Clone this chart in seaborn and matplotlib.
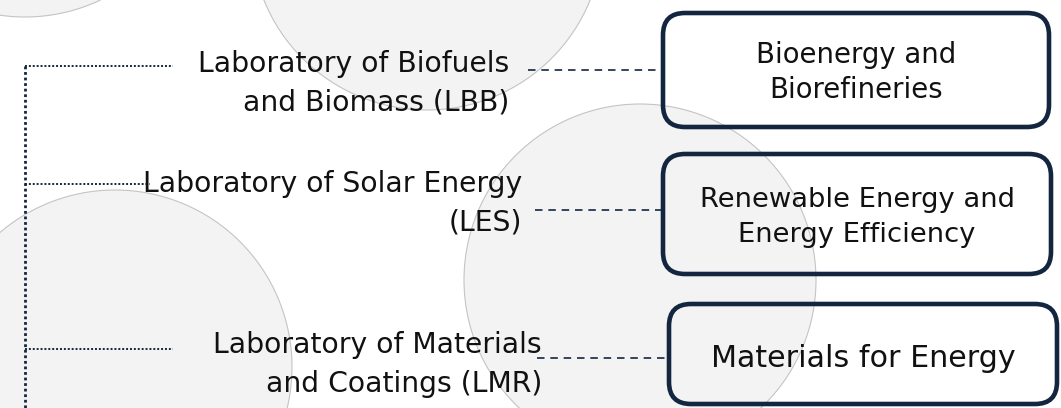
import matplotlib
matplotlib.use("Agg")
import matplotlib.pyplot as plt
from matplotlib.patches import Circle, FancyBboxPatch
import seaborn as sns

# labels of the diagram
labs = ["Laboratory of Biofuels\nand Biomass (LBB)",
        "Laboratory of Solar Energy\n(LES)",
        "Laboratory of Materials\nand Coatings (LMR)"]
topics = ["Bioenergy and\nBiorefineries",
          "Renewable Energy and\nEnergy Efficiency",
          "Materials for Energy"]

# layout (pixel coords, y down)
lab_right = [509, 522, 542]
lab_base = [72, 192, 353]
branch_y = [66, 184, 349]
branch_end = [173, 150, 173]
dash_y = [70, 210, 358]
dash_x0 = [528, 535, 537]
boxes = [(663, 13, 1049, 127), (663, 154, 1051, 274), (669, 304, 1057, 404)]
topic_base = [63, 207, 367]
topic_size = [19.8, 19.7, 21.7]
circles = [(25, -159, 176), (427, -66, 176), (640, 280, 176), (115, 367, 177)]

navy = "#14263f"

sns.set_theme(style="white")
plt.rcParams['font.family'] = ['DejaVu Sans']

fig = plt.figure(figsize=(10.61, 4.08), dpi=100)
ax = fig.add_axes([0, 0, 1, 1])
ax.set_xlim(0, 1061)
ax.set_ylim(408, 0)
ax.axis("off")

# background circles
for cx, cy, r in circles:
    ax.add_patch(Circle((cx, cy), r, facecolor="#f3f3f3", edgecolor="#c4c4c4",
                        lw=0.8, zorder=0))

# dotted tree on the left
ax.plot([24.5, 24.5], [66, 410], color=navy, lw=2.0, ls=(0, (1, 1)), zorder=2)
for y, x1 in zip(branch_y, branch_end):
    ax.plot([24.5, x1], [y, y], color=navy, lw=1.4, ls=(0, (1, 1)), zorder=2)

# lab names
for txt, xr, yb in zip(labs, lab_right, lab_base):
    for i, line in enumerate(txt.split("\n")):
        ax.text(xr, yb + i * 39, line, ha="right", va="baseline",
                fontsize=20.3, color="#111111", zorder=3)

# dashed connectors
for y, x0, b in zip(dash_y, dash_x0, boxes):
    ax.plot([x0, b[0]], [y, y], color=navy, lw=1.2, ls=(0, (4.5, 3.5)), zorder=2)

# rounded boxes with topics
for txt, b, yb, fs in zip(topics, boxes, topic_base, topic_size):
    x0, y0, x1, y1 = b
    ax.add_patch(FancyBboxPatch((x0, y0), x1 - x0, y1 - y0,
                                boxstyle="round,pad=0,rounding_size=22",
                                facecolor="none", edgecolor=navy, lw=3.3, zorder=4))
    cx = (x0 + x1) / 2
    for i, line in enumerate(txt.split("\n")):
        ax.text(cx, yb + i * 35, line, ha="center", va="baseline",
                fontsize=fs, color="#111111", zorder=5)

fig.savefig("out.png", dpi=100)
